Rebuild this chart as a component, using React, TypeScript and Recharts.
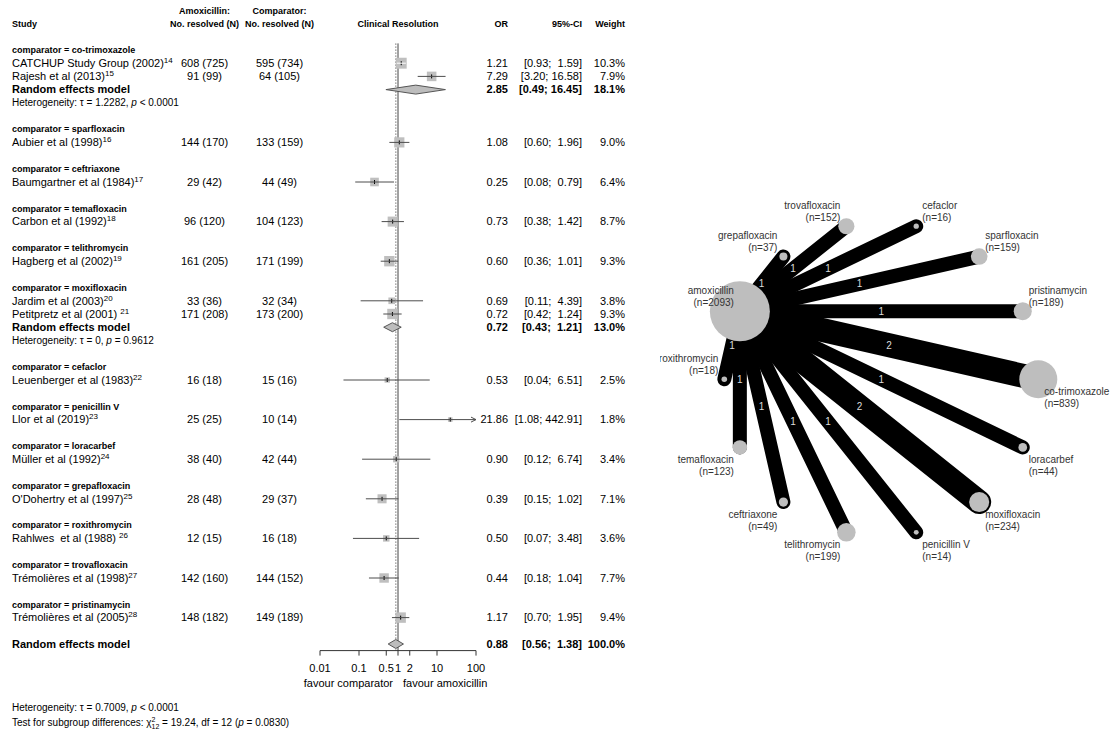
import {
  ComposedChart,
  ScatterChart,
  Scatter,
  XAxis,
  YAxis,
  ReferenceLine,
} from "recharts";

const FONT = "'Liberation Sans', Arial, Helvetica, sans-serif";

// ---- forest plot data ----
const comparators = [
  "co-trimoxazole",
  "sparfloxacin",
  "ceftriaxone",
  "temafloxacin",
  "telithromycin",
  "moxifloxacin",
  "cefaclor",
  "penicillin V",
  "loracarbef",
  "grepafloxacin",
  "roxithromycin",
  "trovafloxacin",
  "pristinamycin",
];

const studyNames = [
  "CATCHUP Study Group (2002)",
  "Rajesh et al (2013)",
  "Aubier et al (1998)",
  "Baumgartner et al (1984)",
  "Carbon et al (1992)",
  "Hagberg et al (2002)",
  "Jardim et al (2003)",
  "Petitpretz et al (2001) ",
  "Leuenberger et al (1983)",
  "Llor et al (2019)",
  "Müller et al (1992)",
  "O'Dohertry et al (1997)",
  "Rahlwes  et al (1988) ",
  "Trémolières et al (1998)",
  "Trémolières et al (2005)",
];
const studyRefs = [14, 15, 16, 17, 18, 19, 20, 21, 22, 23, 24, 25, 26, 27, 28];
const studyComparator = [0, 0, 1, 2, 3, 4, 5, 5, 6, 7, 8, 9, 10, 11, 12];
const amoxResolved = [608, 91, 144, 29, 96, 161, 33, 171, 16, 25, 38, 28, 12, 142, 148];
const amoxTotal = [725, 99, 170, 42, 120, 205, 36, 208, 18, 25, 40, 48, 15, 160, 182];
const compResolved = [595, 64, 133, 44, 104, 171, 32, 173, 15, 10, 42, 29, 16, 144, 149];
const compTotal = [734, 105, 159, 49, 123, 199, 34, 200, 16, 14, 44, 37, 18, 152, 189];
const oddsRatio = [1.21, 7.29, 1.08, 0.25, 0.73, 0.6, 0.69, 0.72, 0.53, 21.86, 0.9, 0.39, 0.5, 0.44, 1.17];
const ciLower = [0.93, 3.2, 0.6, 0.08, 0.38, 0.36, 0.11, 0.42, 0.04, 1.08, 0.12, 0.15, 0.07, 0.18, 0.7];
const ciUpper = [1.59, 16.58, 1.96, 0.79, 1.42, 1.01, 4.39, 1.24, 6.51, 442.91, 6.74, 1.02, 3.48, 1.04, 1.95];
const weights = [10.3, 7.9, 9.0, 6.4, 8.7, 9.3, 3.8, 9.3, 2.5, 1.8, 3.4, 7.1, 3.6, 7.7, 9.4];

// subgroup random effects (only subgroups with 2 studies)
const pooledComparator = [0, 5];
const pooledOR = [2.85, 0.72];
const pooledLower = [0.49, 0.43];
const pooledUpper = [16.45, 1.21];
const pooledWeight = [18.1, 13.0];
const pooledTau = ["1.2282", "0"];
const pooledP = ["< 0.0001", "= 0.9612"];

const overallOR = 0.88;
const overallLower = 0.56;
const overallUpper = 1.38;
const overallWeight = 100.0;
const overallTau = "0.7009";
const overallP = "< 0.0001";
const subgroupChi = "19.24";
const subgroupDf = 12;
const subgroupP = "0.0830";

const xTicks = [0.01, 0.1, 0.5, 1, 2, 10, 100];
const X_MIN = 0.01;
const X_MAX = 100;

// ---- network data ----
const netNodes = [
  "co-trimoxazole",
  "pristinamycin",
  "sparfloxacin",
  "cefaclor",
  "trovafloxacin",
  "grepafloxacin",
  "amoxicillin",
  "roxithromycin",
  "temafloxacin",
  "ceftriaxone",
  "telithromycin",
  "penicillin V",
  "moxifloxacin",
  "loracarbef",
];
const netNodeN = [839, 189, 159, 16, 152, 37, 2093, 18, 123, 49, 199, 14, 234, 44];
const netHub = "amoxicillin";
const netEdgeTo = [
  "co-trimoxazole",
  "pristinamycin",
  "sparfloxacin",
  "cefaclor",
  "trovafloxacin",
  "grepafloxacin",
  "roxithromycin",
  "temafloxacin",
  "ceftriaxone",
  "telithromycin",
  "penicillin V",
  "moxifloxacin",
  "loracarbef",
];
const netEdgeStudies = [2, 1, 1, 1, 1, 1, 1, 1, 1, 1, 1, 2, 1];

// ---- layout constants ----
const COL = { study: 12, amox: 204.5, comp: 279.5, mid: 398, or: 508, ci: 582, weight: 625 };
const SQUARE_SCALE = 3.4;
const PX_PER_DECADE = 39;
const DIAMOND_H = 0.34;
const NODE_R = 0.656;
const NET_W = 450;
const NET_H = 731;
const NET_CX = 221.3;
const NET_CY = 379.3;
const NET_R = 157;

// ---- build rows ----
type RowInfo = { kind: string; idx: number };
const rowInfo = new Map<number, RowInfo>();
const studyRow: number[] = [];
const pooledRow: number[] = [];
let cursor = 0;
comparators.forEach((_, gi) => {
  rowInfo.set(cursor++, { kind: "group", idx: gi });
  studyComparator.forEach((c, si) => {
    if (c === gi) {
      studyRow[si] = cursor;
      rowInfo.set(cursor++, { kind: "study", idx: si });
    }
  });
  const pi = pooledComparator.indexOf(gi);
  if (pi >= 0) {
    pooledRow[pi] = cursor;
    rowInfo.set(cursor++, { kind: "pooled", idx: pi });
    rowInfo.set(cursor++, { kind: "het", idx: pi });
  }
  cursor++;
});
const overallRow = cursor;
rowInfo.set(overallRow, { kind: "overall", idx: 0 });
rowInfo.set(-3, { kind: "head1", idx: 0 });
rowInfo.set(-2, { kind: "head2", idx: 0 });
const tickRows = Array.from(rowInfo.keys()).sort((a, b) => a - b);
const Y_MIN = -3.5;
const Y_MAX = overallRow + 0.5;

const fmtCI = (lo: number, hi: number) =>
  `[${lo.toFixed(2)}; ${hi < 10 ? " " : ""}${hi.toFixed(2)}]`;

const squareData = oddsRatio.map((or, i) => ({ x: or, y: studyRow[i], w: weights[i] }));
const ciData = oddsRatio.map((_, i) => {
  const side = SQUARE_SCALE * Math.sqrt(weights[i]);
  const inside = Math.log10(ciUpper[i] / ciLower[i]) * PX_PER_DECADE < side;
  return {
    inside,
    points: [
      { x: Math.max(ciLower[i], X_MIN), y: studyRow[i] },
      { x: Math.min(ciUpper[i], X_MAX), y: studyRow[i] },
    ],
  };
});
const arrowData = ciUpper
  .map((hi, i) => ({ hi, y: studyRow[i] }))
  .filter((d) => d.hi > X_MAX)
  .map((d) => ({ x: X_MAX, y: d.y }));

const diamond = (or: number, lo: number, hi: number, y: number) => [
  { x: lo, y },
  { x: or, y: y - DIAMOND_H },
  { x: hi, y },
  { x: or, y: y + DIAMOND_H },
  { x: lo, y },
];
const diamonds = [
  ...pooledOR.map((or, i) => diamond(or, pooledLower[i], pooledUpper[i], pooledRow[i])),
  diamond(overallOR, overallLower, overallUpper, overallRow),
];

// ---- network points ----
const nodePoints = netNodes.map((name, i) => {
  const a = (2 * Math.PI * i) / netNodes.length;
  return { x: Math.cos(a), y: Math.sin(a), angle: a, name, n: netNodeN[i] };
});
const nodeByName = new Map(nodePoints.map((p) => [p.name, p]));
const hub = nodeByName.get(netHub)!;
const edges = netEdgeTo.map((to, i) => {
  const p = nodeByName.get(to)!;
  return { k: netEdgeStudies[i], points: [{ x: hub.x, y: hub.y }, { x: p.x, y: p.y }] };
});
const edgeMids = edges.map((e) => ({
  x: (e.points[0].x + e.points[1].x) / 2,
  y: (e.points[0].y + e.points[1].y) / 2,
  k: e.k,
}));

// ---- shapes ----
const Empty = () => <g />;

const T = ({ x, y, anchor = "start", size = 11, bold = false, children }: any) => (
  <text
    x={x}
    y={y}
    dy="0.35em"
    textAnchor={anchor}
    fontSize={size}
    fontWeight={bold ? "bold" : "normal"}
    fill="#000"
    fontFamily={FONT}
    style={{ whiteSpace: "pre" }}
  >
    {children}
  </text>
);

function RowTick(props: any) {
  const { y, payload } = props;
  const info = rowInfo.get(payload.value);
  if (!info) return <g />;
  const i = info.idx;
  if (info.kind === "head1") {
    return (
      <g>
        <T x={COL.amox} y={y} anchor="middle" size={9} bold>Amoxicillin:</T>
        <T x={COL.comp} y={y} anchor="middle" size={9} bold>Comparator:</T>
      </g>
    );
  }
  if (info.kind === "head2") {
    return (
      <g>
        <T x={COL.study} y={y} size={9} bold>Study</T>
        <T x={COL.amox} y={y} anchor="middle" size={9} bold>No. resolved (N)</T>
        <T x={COL.comp} y={y} anchor="middle" size={9} bold>No. resolved (N)</T>
        <T x={COL.mid} y={y} anchor="middle" size={9} bold>Clinical Resolution</T>
        <T x={COL.or} y={y} anchor="end" size={9} bold>OR</T>
        <T x={COL.ci} y={y} anchor="end" size={9} bold>95%-CI</T>
        <T x={COL.weight} y={y} anchor="end" size={9} bold>Weight</T>
      </g>
    );
  }
  if (info.kind === "group") {
    return <T x={COL.study} y={y} size={9} bold>{`comparator = ${comparators[i]}`}</T>;
  }
  if (info.kind === "study") {
    return (
      <g>
        <T x={COL.study} y={y}>
          {studyNames[i]}
          <tspan dy={-4} fontSize={8}>{studyRefs[i]}</tspan>
        </T>
        <T x={COL.amox} y={y} anchor="middle">{`${amoxResolved[i]} (${amoxTotal[i]})`}</T>
        <T x={COL.comp} y={y} anchor="middle">{`${compResolved[i]} (${compTotal[i]})`}</T>
        <T x={COL.or} y={y} anchor="end">{oddsRatio[i].toFixed(2)}</T>
        <T x={COL.ci} y={y} anchor="end">{fmtCI(ciLower[i], ciUpper[i])}</T>
        <T x={COL.weight} y={y} anchor="end">{`${weights[i].toFixed(1)}%`}</T>
      </g>
    );
  }
  if (info.kind === "pooled" || info.kind === "overall") {
    const pooled = info.kind === "pooled";
    const or = pooled ? pooledOR[i] : overallOR;
    const lo = pooled ? pooledLower[i] : overallLower;
    const hi = pooled ? pooledUpper[i] : overallUpper;
    const w = pooled ? pooledWeight[i] : overallWeight;
    return (
      <g>
        <T x={COL.study} y={y} bold>Random effects model</T>
        <T x={COL.or} y={y} anchor="end" bold>{or.toFixed(2)}</T>
        <T x={COL.ci} y={y} anchor="end" bold>{fmtCI(lo, hi)}</T>
        <T x={COL.weight} y={y} anchor="end" bold>{`${w.toFixed(1)}%`}</T>
      </g>
    );
  }
  if (info.kind === "het") {
    return (
      <T x={COL.study} y={y} size={10}>
        {`Heterogeneity: \u03c4 = ${pooledTau[i]}, `}
        <tspan fontStyle="italic">p</tspan>
        {` ${pooledP[i]}`}
      </T>
    );
  }
  return <g />;
}

const SquareShape = (props: any) => {
  const { cx, cy, payload } = props;
  const s = SQUARE_SCALE * Math.sqrt(payload.w);
  return (
    <g>
      <rect x={cx - s / 2} y={cy - s / 2} width={s} height={s} fill="#bfbfbf" />
      <line x1={cx} x2={cx} y1={cy - 2} y2={cy + 2} stroke="#000" strokeWidth={1} />
    </g>
  );
};

const ArrowShape = (props: any) => {
  const { cx, cy } = props;
  return <path d={`M${cx - 5},${cy - 2.5} L${cx},${cy} L${cx - 5},${cy + 2.5}`} fill="none" stroke="#4d4d4d" strokeWidth={1} />;
};

const NodeShape = (props: any) => {
  const { cx, cy, payload } = props;
  return <circle cx={cx} cy={cy} r={NODE_R * Math.sqrt(payload.n)} fill="#bebebe" />;
};

const NodeLabelShape = (props: any) => {
  const { cx, cy, payload } = props;
  const a = payload.angle;
  const right = Math.cos(a) > 1e-6;
  const above = Math.sin(a) > 1e-6 || Math.abs(Math.cos(a) + 1) < 1e-6;
  const tx = right ? cx + 6 : cx - 6;
  const y1 = above ? cy - 21 : cy + 12;
  const anchor = right ? "start" : "end";
  return (
    <g fontFamily={FONT} fontSize={10} fill="#333" textAnchor={anchor}>
      <text x={tx} y={y1} dy="0.35em">{payload.name}</text>
      <text x={tx} y={y1 + 12} dy="0.35em">{`(n=${payload.n})`}</text>
    </g>
  );
};

const EdgeLabelShape = (props: any) => {
  const { cx, cy, payload } = props;
  return (
    <text x={cx} y={cy} dy="0.35em" textAnchor="middle" fontSize={10} fontFamily={FONT} fill="#dcdcdc">
      {payload.k}
    </text>
  );
};

export default function App() {
  return (
    <div style={{ position: "absolute", left: 0, top: 0, width: 1110, height: 731, background: "#fff", fontFamily: FONT }}>
      <div style={{ position: "absolute", left: 0, top: 0 }}>
        <ComposedChart width={640} height={731} margin={{ top: 3.8, right: 164, bottom: 40.4, left: 0 }}>
          <XAxis
            type="number"
            dataKey="x"
            scale="log"
            domain={[X_MIN, X_MAX]}
            allowDataOverflow
            ticks={xTicks}
            interval={0}
            height={40}
            tickSize={5}
            tickMargin={9}
            stroke="#333"
            tick={{ fontSize: 11, fill: "#000" }}
            tickFormatter={(v: number) => String(v)}
          />
          <YAxis
            type="number"
            dataKey="y"
            domain={[Y_MIN, Y_MAX]}
            reversed
            allowDataOverflow
            width={320}
            ticks={tickRows}
            interval={0}
            axisLine={false}
            tickLine={false}
            tick={RowTick}
          />
          <ReferenceLine
            segment={[{ x: 1, y: -0.5 }, { x: 1, y: Y_MAX }]}
            stroke="#444"
            strokeWidth={1}
          />
          <ReferenceLine
            segment={[{ x: overallOR, y: -0.5 }, { x: overallOR, y: Y_MAX }]}
            stroke="#777"
            strokeWidth={1}
            strokeDasharray="1.5 1.5"
          />
          <Scatter data={squareData} shape={SquareShape} isAnimationActive={false} />
          {ciData.map((c, i) => (
            <Scatter
              key={`ci-${i}`}
              data={c.points}
              line={{ stroke: c.inside ? "#fff" : "#4d4d4d", strokeWidth: 1 }}
              shape={Empty}
              isAnimationActive={false}
            />
          ))}
          <Scatter data={arrowData} shape={ArrowShape} isAnimationActive={false} />
          {diamonds.map((d, i) => (
            <Scatter
              key={`dia-${i}`}
              data={d}
              line={{ stroke: "#555", fill: "#bdbdbd", strokeWidth: 1 }}
              shape={Empty}
              isAnimationActive={false}
            />
          ))}
        </ComposedChart>
      </div>

      <svg
        width={640}
        height={731}
        style={{ position: "absolute", left: 0, top: 0, pointerEvents: "none" }}
        fontFamily={FONT}
      >
        <text x={393} y={683} dy="0.35em" textAnchor="end" fontSize={11} fill="#000">favour comparator</text>
        <text x={403} y={683} dy="0.35em" textAnchor="start" fontSize={11} fill="#000">favour amoxicillin</text>
        <text x={12} y={707} dy="0.35em" fontSize={10} fill="#000" style={{ whiteSpace: "pre" }}>
          {`Heterogeneity: \u03c4 = ${overallTau}, `}
          <tspan fontStyle="italic">p</tspan>
          {` ${overallP}`}
        </text>
        <text x={12} y={722} dy="0.35em" fontSize={10} fill="#000" style={{ whiteSpace: "pre" }}>
          {"Test for subgroup differences: \u03c7"}
          <tspan dy={-4} fontSize={7}>2</tspan>
          <tspan dx={-4} dy={7} fontSize={7}>{subgroupDf}</tspan>
          <tspan dy={-3}>{` = ${subgroupChi}, df = ${subgroupDf} (`}</tspan>
          <tspan fontStyle="italic">p</tspan>
          {` = ${subgroupP})`}
        </text>
      </svg>

      <div style={{ position: "absolute", left: 660, top: 0 }}>
        <ScatterChart width={NET_W} height={NET_H} margin={{ top: 0, right: 0, bottom: 0, left: 0 }}>
          <XAxis
            type="number"
            dataKey="x"
            hide
            allowDataOverflow
            domain={[-NET_CX / NET_R, (NET_W - NET_CX) / NET_R]}
          />
          <YAxis
            type="number"
            dataKey="y"
            hide
            allowDataOverflow
            domain={[(NET_CY - NET_H) / NET_R, NET_CY / NET_R]}
          />
          {edges.map((e, i) => (
            <Scatter
              key={`edge-${i}`}
              data={e.points}
              fill="#000"
              line={{ stroke: "#000", strokeWidth: 4 + 10 * e.k, strokeLinecap: "round" }}
              shape={Empty}
              isAnimationActive={false}
            />
          ))}
          <Scatter data={nodePoints} shape={NodeShape} isAnimationActive={false} />
          <Scatter data={edgeMids} shape={EdgeLabelShape} isAnimationActive={false} />
          <Scatter data={nodePoints} shape={NodeLabelShape} isAnimationActive={false} />
        </ScatterChart>
      </div>
    </div>
  );
}
